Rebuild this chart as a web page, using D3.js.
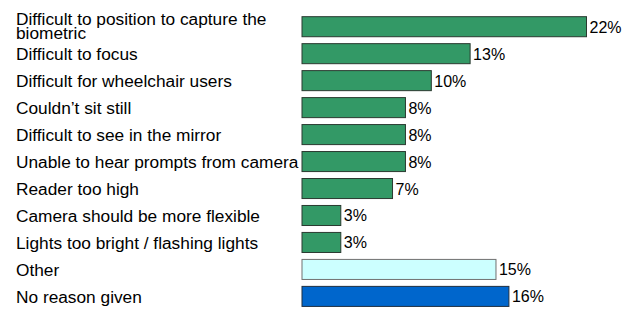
<!DOCTYPE html>
<html>
<head>
<meta charset="utf-8">
<script src="https://cdn.jsdelivr.net/npm/d3@7"></script>
<style>
  body { margin: 0; background: #fff; }
  text { font-family: "Liberation Sans", Arial, sans-serif; fill: #000; }
</style>
</head>
<body>
<svg width="636" height="311"></svg>
<script>
const categories = [
  "Difficult to position to capture the biometric",
  "Difficult to focus",
  "Difficult for wheelchair users",
  "Couldn’t sit still",
  "Difficult to see in the mirror",
  "Unable to hear prompts from camera",
  "Reader too high",
  "Camera should be more flexible",
  "Lights too bright / flashing lights",
  "Other",
  "No reason given"
];
const values = [22, 13, 10, 8, 8, 8, 7, 3, 3, 15, 16];
const groups = ["problem", "problem", "problem", "problem", "problem", "problem",
  "problem", "problem", "problem", "other", "none"];
// first label is wrapped onto two lines in the original
const labelLines = [
  ["Difficult to position to capture the", "biometric"]
];

const svg = d3.select("svg");

const x = d3.scaleLinear().domain([0, 22]).range([302, 586.5]);
const y = d3.scaleBand().domain(categories).range([9.75, 313.35]).padding(0.257);

const fill = d3.scaleOrdinal().domain(["problem", "other", "none"]).range(["#339966", "#ccffff", "#0066cc"]);
const stroke = d3.scaleOrdinal().domain(["problem", "other", "none"]).range(["#2a3a30", "#707070", "#1f2f40"]);

const rows = categories.map((c, i) => ({ cat: c, value: values[i], group: groups[i] }));

// Bars
svg.selectAll(".bar")
  .data(rows)
  .enter()
  .append("rect")
  .attr("class", "bar")
  .attr("x", x(0))
  .attr("y", d => y(d.cat))
  .attr("width", d => x(d.value) - x(0))
  .attr("height", y.bandwidth())
  .attr("fill", d => fill(d.group))
  .attr("stroke", d => stroke(d.group))
  .attr("stroke-width", 1);

// Value labels
svg.selectAll(".val")
  .data(rows)
  .enter()
  .append("text")
  .attr("class", "val")
  .attr("x", d => x(d.value) + 3)
  .attr("y", d => y(d.cat) + y.bandwidth() / 2 + 6)
  .style("font-size", "16px")
  .text(d => d.value + "%");

// Category labels
svg.selectAll(".cat")
  .data(rows)
  .enter()
  .append("text")
  .attr("class", "cat")
  .attr("x", 16)
  .attr("y", d => y(d.cat) + y.bandwidth() / 2 + 6.5)
  .style("font-size", "17.3px")
  .each(function(d, i) {
    const t = d3.select(this);
    if (i < labelLines.length) {
      const lines = labelLines[i];
      t.attr("y", y(d.cat) + y.bandwidth() / 2 - 2);
      lines.forEach((ln, j) => {
        t.append("tspan").attr("x", 16).attr("dy", j === 0 ? 0 : 14.3).text(ln);
      });
    } else {
      t.text(d.cat);
    }
  });
</script>
</body>
</html>
